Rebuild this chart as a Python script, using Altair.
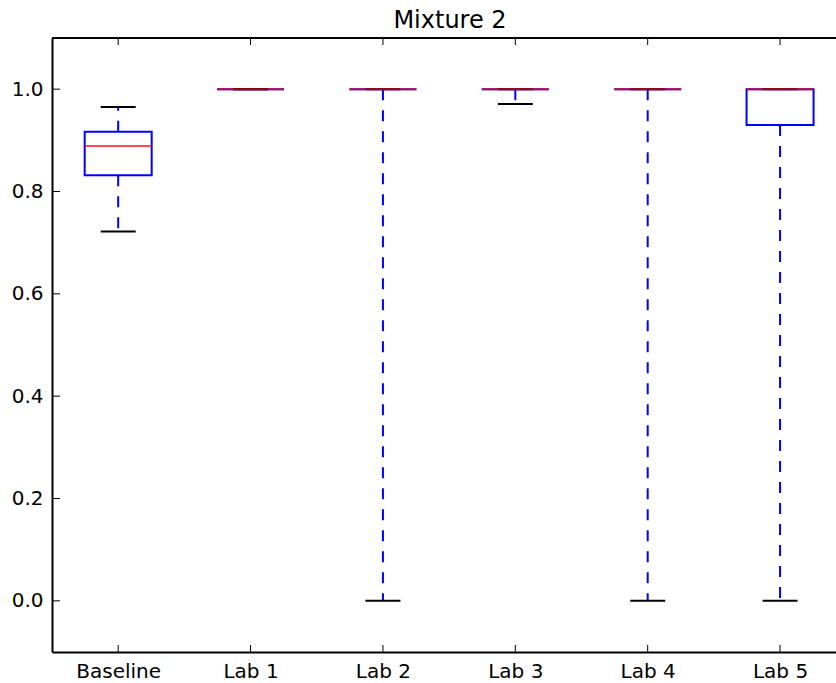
import altair as alt
import pandas as pd

labels = ["Baseline", "Lab 1", "Lab 2", "Lab 3", "Lab 4", "Lab 5"]
positions = [1, 2, 3, 4, 5, 6]
whisk_low = [0.722, 1.0, 0.0, 0.971, 0.0, 0.0]
q1 = [0.832, 1.0, 1.0, 1.0, 1.0, 0.930]
median = [0.889, 1.0, 1.0, 1.0, 1.0, 1.0]
q3 = [0.917, 1.0, 1.0, 1.0, 1.0, 1.0]
whisk_high = [0.965, 1.0, 1.0, 1.0, 1.0, 1.0]
y_ticks = [0.0, 0.2, 0.4, 0.6, 0.8, 1.0]

df = pd.DataFrame({
    "label": labels, "pos": positions, "low": whisk_low, "q1": q1,
    "med": median, "q3": q3, "high": whisk_high,
})
yt = pd.DataFrame({"v": y_ticks})

W, H = 784, 614
FONT = "DejaVu Sans"
label_expr = "[" + ",".join("'%s'" % l for l in labels) + "][datum.value - 1]"

xscale = alt.Scale(domain=[0.5, 6.4226], nice=False, zero=False, padding=0)
yscale = alt.Scale(domain=[-0.1, 1.1], nice=False, zero=False, padding=0)

base = alt.Chart(df)

x_axis = alt.X("pos:Q", scale=xscale, title=None,
               axis=alt.Axis(values=positions, labelExpr=label_expr, ticks=False,
                             grid=False, labelPadding=9, labelFontSize=20,
                             labelFont=FONT, labelColor="black", domainColor="black",
                             domainWidth=2, labelFlush=False))
y_axis = alt.Y("q1:Q", scale=yscale, title=None,
               axis=alt.Axis(values=y_ticks, format=".1f", ticks=False, grid=False,
                             labelPadding=9, labelFontSize=20, labelFont=FONT,
                             labelColor="black", domainColor="black", domainWidth=2))

box = base.mark_bar(size=67, fill="white", fillOpacity=0, stroke="#0000ff",
                    strokeWidth=2).encode(x=x_axis, y=y_axis, y2="q3:Q")

wl = base.mark_rule(color="#0000ff", strokeWidth=2, strokeDash=[11, 10]).encode(
    x=alt.X("pos:Q", scale=xscale), y=alt.Y("q1:Q", scale=yscale), y2="low:Q")
wh = base.mark_rule(color="#0000ff", strokeWidth=2, strokeDash=[11, 10]).encode(
    x=alt.X("pos:Q", scale=xscale), y=alt.Y("q3:Q", scale=yscale), y2="high:Q")

cap_low = base.mark_tick(orient="horizontal", size=35, thickness=2, color="black",
                         opacity=1).encode(
    x=alt.X("pos:Q", scale=xscale), y=alt.Y("low:Q", scale=yscale))
cap_high = base.mark_tick(orient="horizontal", size=35, thickness=2, color="black",
                          opacity=1).encode(
    x=alt.X("pos:Q", scale=xscale), y=alt.Y("high:Q", scale=yscale))

med = base.mark_tick(orient="horizontal", size=67, thickness=2, color="#ff0000",
                     opacity=0.7).encode(
    x=alt.X("pos:Q", scale=xscale), y=alt.Y("med:Q", scale=yscale))

# frame top line and inward ticks
top_line = base.mark_rule(color="black", strokeWidth=2).encode(
    x=alt.value(0), x2=alt.value(W), y=alt.value(0))
left_ticks = alt.Chart(yt).mark_rule(color="black", strokeWidth=1).encode(
    y=alt.Y("v:Q", scale=yscale), x=alt.value(0), x2=alt.value(8))
top_ticks = base.mark_rule(color="black", strokeWidth=1).encode(
    x=alt.X("pos:Q", scale=xscale), y=alt.value(0), y2=alt.value(7))
bot_ticks = base.mark_rule(color="black", strokeWidth=1).encode(
    x=alt.X("pos:Q", scale=xscale), y=alt.value(H - 7), y2=alt.value(H))

chart = alt.layer(
    box, wl, wh, cap_low, cap_high, med, top_line, left_ticks, top_ticks, bot_ticks
).properties(
    width=W, height=H,
    title=alt.TitleParams("Mixture 2", font=FONT, fontSize=24, fontWeight="normal",
                          color="black", offset=4, dx=6),
    autosize=alt.AutoSizeParams(type="none"),
    padding={"left": 52, "top": 38, "right": 0, "bottom": 31},
).configure(background="white").configure_view(strokeOpacity=0, strokeWidth=0)

chart.save("out.html", embed_options={"renderer": "svg", "actions": False})
